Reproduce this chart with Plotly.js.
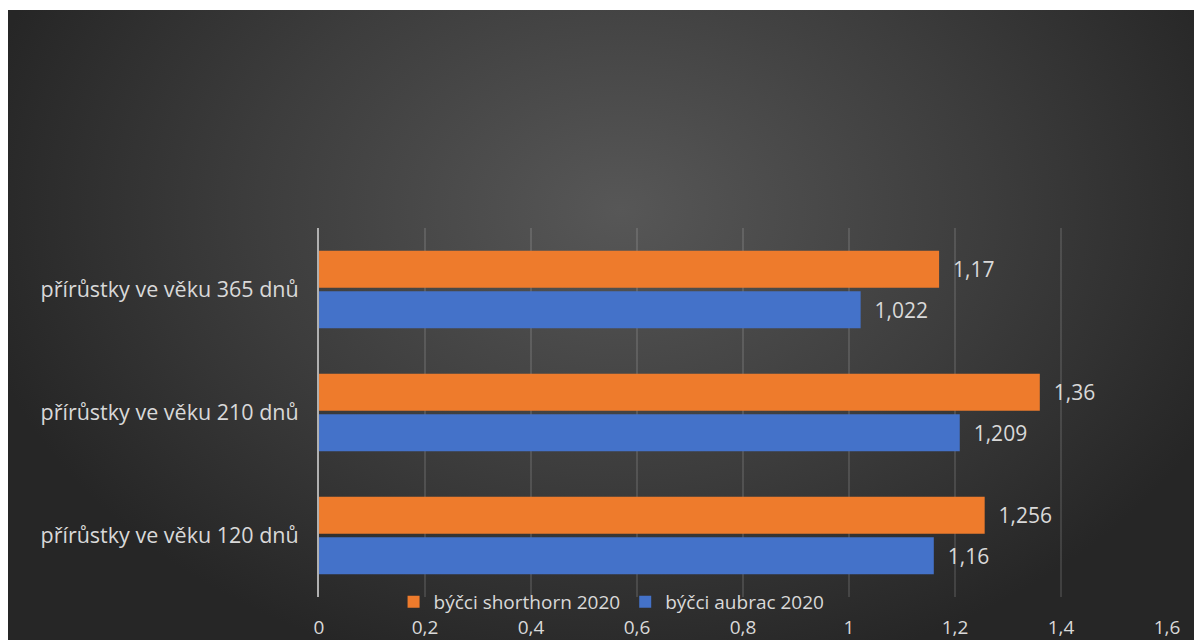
<!DOCTYPE html>
<html>
<head>
<meta charset="utf-8">
<script src="https://cdn.plot.ly/plotly-3.0.1.min.js"></script>
<style>
  html, body { margin: 0; padding: 0; background: #ffffff; width: 1194px; height: 640px; overflow: hidden; }
  #bg { position: absolute; left: 8px; top: 10px; width: 1186px; height: 630px;
        background: radial-gradient(ellipse 660px 480px at 612px 200px, #575757 0%, #3d3d3d 55%, #262626 100%); }
  #chart { position: absolute; left: 0; top: 0; width: 1194px; height: 640px; }
</style>
</head>
<body>
<div id="bg"></div>
<div id="chart"></div>
<script>
const categories = ['přírůstky ve věku 120 dnů', 'přírůstky ve věku 210 dnů', 'přírůstky ve věku 365 dnů'];
const seriesNames = ['býčci aubrac 2020', 'býčci shorthorn 2020'];
const aubrac = [1.16, 1.209, 1.022];
const shorthorn = [1.256, 1.36, 1.17];
const xTickVals = [0, 0.2, 0.4, 0.6, 0.8, 1, 1.2, 1.4, 1.6];
const xTickText = ['0', '0,2', '0,4', '0,6', '0,8', '1', '1,2', '1,4', '1,6'];

const fmt = v => '\u00a0\u00a0' + String(v).replace('.', ',');
const fam = '"Open Sans", Lato, sans-serif';
const dataFont = { family: fam, size: 21, color: '#d9d9d9' };
const catFont = { family: fam, size: 21.5, color: '#d9d9d9' };
const tickFont = { family: fam, size: 19, color: '#d9d9d9' };
const legFont = { family: fam, size: 19, color: '#d9d9d9' };

const traces = [
  {
    type: 'bar', orientation: 'h', name: seriesNames[0],
    y: categories, x: aubrac,
    marker: { color: '#4472c9', line: { width: 0 } },
    text: aubrac.map(fmt), textposition: 'outside', cliponaxis: false,
    textfont: dataFont, hoverinfo: 'x+y'
  },
  {
    type: 'bar', orientation: 'h', name: seriesNames[1],
    y: categories, x: shorthorn,
    marker: { color: '#ee7b2c', line: { width: 0 } },
    text: shorthorn.map(fmt), textposition: 'outside', cliponaxis: false,
    textfont: dataFont, hoverinfo: 'x+y'
  }
];

const layout = {
  width: 1194, height: 640,
  paper_bgcolor: 'rgba(0,0,0,0)', plot_bgcolor: 'rgba(0,0,0,0)',
  margin: { l: 319, r: 27, t: 228, b: 43, pad: 0 },
  barmode: 'group', bargap: 0.34, bargroupgap: 0.09,
  separators: ', ',
  font: tickFont,
  showlegend: true,
  legend: {
    orientation: 'h', traceorder: 'reversed',
    x: 0.345, xanchor: 'center', y: -0.013, yanchor: 'middle',
    bgcolor: 'rgba(0,0,0,0)', font: legFont,
    itemwidth: 30
  },
  xaxis: {
    range: [0, 1.6], tickvals: xTickVals, ticktext: xTickText,
    showgrid: true, gridcolor: 'rgba(255,255,255,0.12)', gridwidth: 1.5,
    zeroline: false, showline: false, ticks: '',
    tickfont: tickFont, ticklabelstandoff: 17, fixedrange: true
  },
  yaxis: {
    type: 'category', categoryorder: 'array', categoryarray: categories,
    range: [-0.5, 2.5],
    showgrid: false, zeroline: false,
    showline: true, linecolor: '#b0b0b0', linewidth: 2,
    ticks: '', tickfont: catFont, ticklabelstandoff: 14, fixedrange: true
  }
};

Plotly.newPlot('chart', traces, layout, { displayModeBar: false, staticPlot: true });
</script>
</body>
</html>
